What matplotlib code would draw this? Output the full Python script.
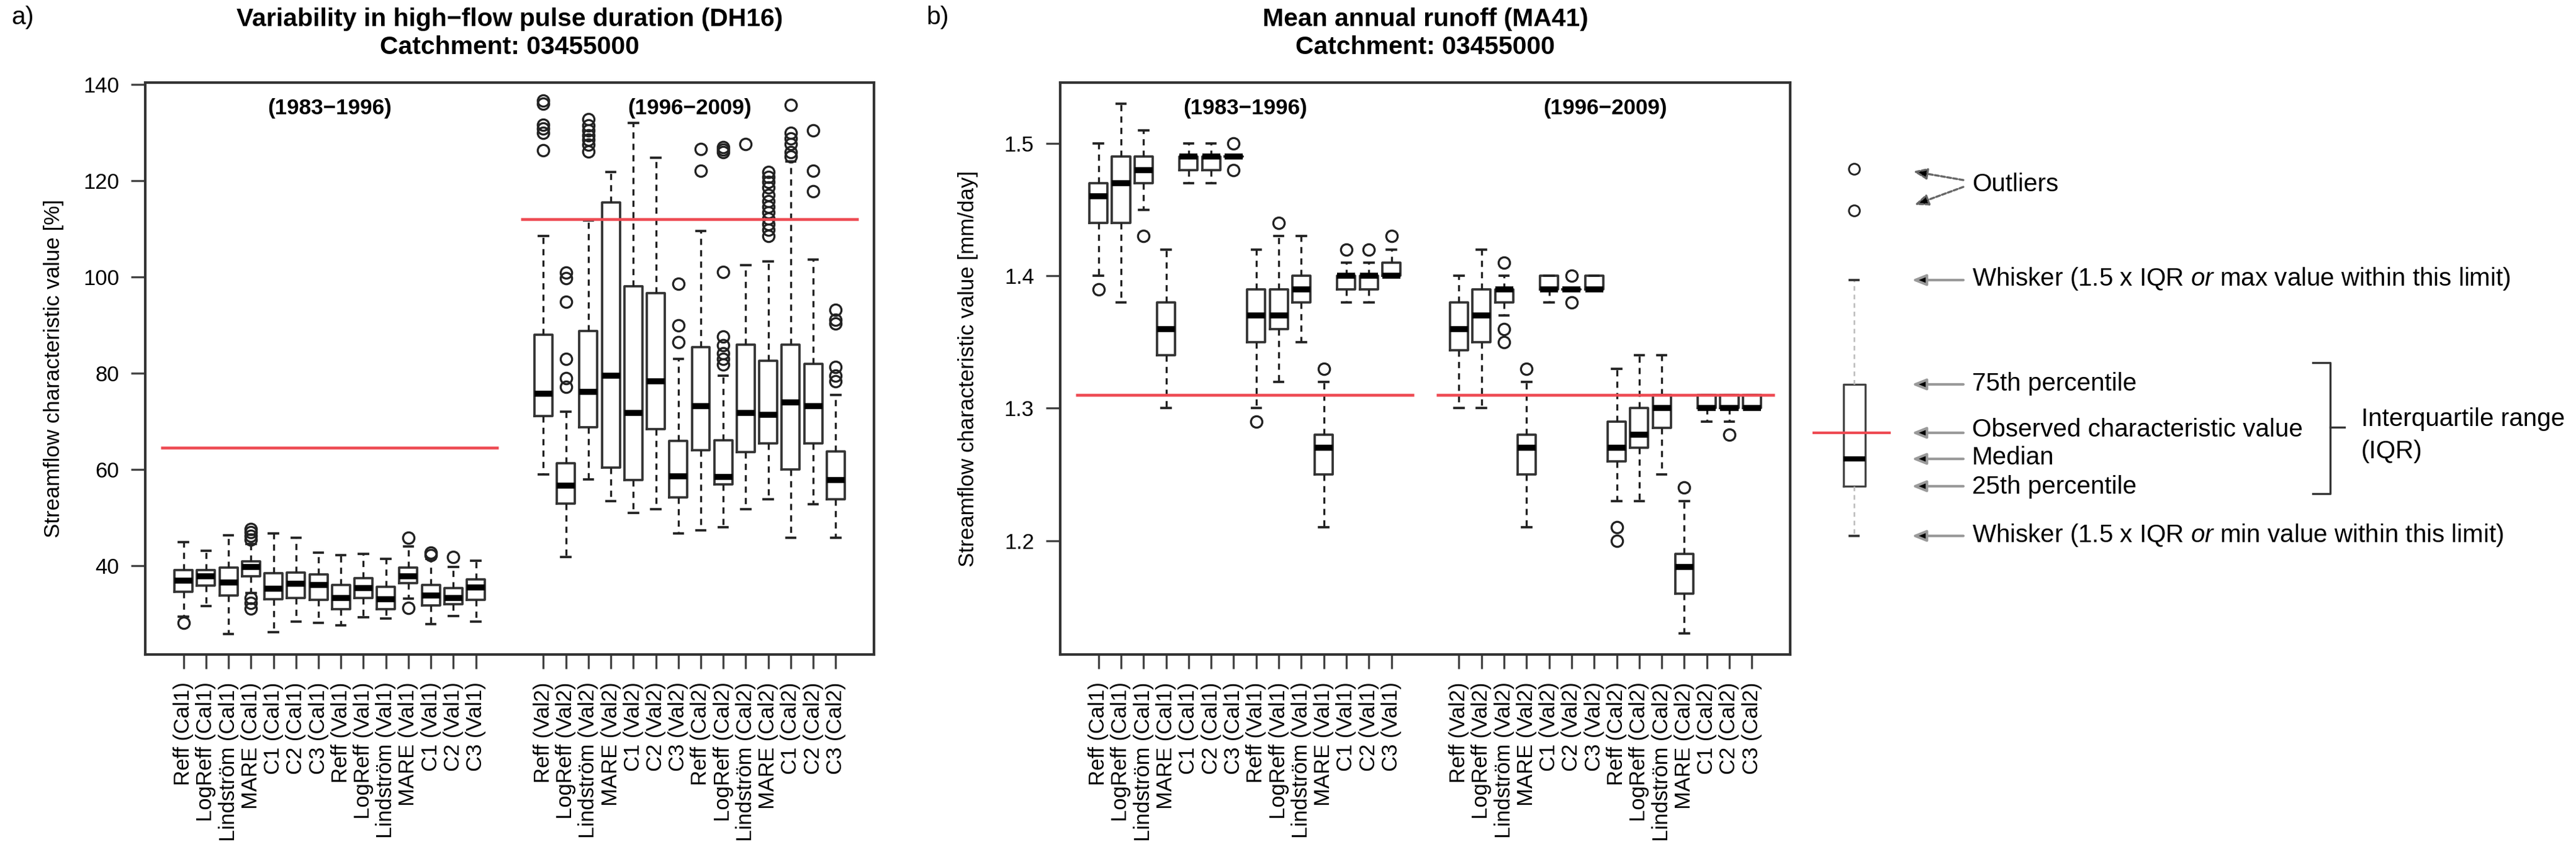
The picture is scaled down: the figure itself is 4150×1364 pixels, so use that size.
import matplotlib
matplotlib.use('Agg')
import matplotlib.pyplot as plt

plt.rcParams['font.family'] = ['Liberation Sans', 'DejaVu Sans']
plt.rcParams['mathtext.fontset'] = 'custom'
plt.rcParams['mathtext.rm'] = 'Liberation Sans'
plt.rcParams['mathtext.it'] = 'Liberation Sans:italic'

W, H = 4150, 1364

# box labels (both panels use the same ordering)
labels = ['Reff (Cal1)', 'LogReff (Cal1)', 'Lindström (Cal1)', 'MARE (Cal1)',
          'C1 (Cal1)', 'C2 (Cal1)', 'C3 (Cal1)',
          'Reff (Val1)', 'LogReff (Val1)', 'Lindström (Val1)', 'MARE (Val1)',
          'C1 (Val1)', 'C2 (Val1)', 'C3 (Val1)',
          'Reff (Val2)', 'LogReff (Val2)', 'Lindström (Val2)', 'MARE (Val2)',
          'C1 (Val2)', 'C2 (Val2)', 'C3 (Val2)',
          'Reff (Cal2)', 'LogReff (Cal2)', 'Lindström (Cal2)', 'MARE (Cal2)',
          'C1 (Cal2)', 'C2 (Cal2)', 'C3 (Cal2)']
positions = list(range(1, 15)) + list(range(17, 31))
periods = ['(1983−1996)', '(1996−2009)']
period_x = [7.5, 23.5]
obs_span = [(0, 15), (16, 31)]

# a) DH16 - variability in high-flow pulse duration [%]
dh16_lo = [29.5, 31.6, 25.9, 34.4, 26.2, 28.5, 28.2, 27.7, 29.4, 29.1, 33.2, 27.9, 29.6, 28.4,
           59.0, 41.8, 58.0, 53.4, 51.0, 51.8, 46.7, 47.4, 48.0, 51.8, 53.9, 45.8, 52.8, 45.8]
dh16_q1 = [34.6, 35.9, 33.8, 37.9, 33.1, 33.3, 32.9, 31.0, 33.3, 31.0, 36.4, 31.8, 32.0, 32.9,
           71.1, 53.0, 68.8, 60.4, 57.9, 68.4, 54.2, 64.0, 57.0, 63.7, 65.4, 60.1, 65.4, 53.9]
dh16_med = [37.0, 37.8, 36.6, 39.8, 35.3, 36.3, 36.0, 33.4, 35.4, 33.1, 37.9, 33.8, 33.4, 35.5,
            75.8, 56.7, 76.1, 79.5, 71.8, 78.4, 58.6, 73.2, 58.5, 71.8, 71.4, 74.0, 73.2, 57.9]
dh16_q3 = [39.1, 39.1, 39.7, 41.0, 38.5, 38.6, 38.2, 36.0, 37.5, 35.7, 39.6, 36.0, 35.4, 37.2,
           88.0, 61.3, 88.8, 115.5, 98.1, 96.7, 66.0, 85.5, 66.1, 86.0, 82.6, 86.0, 82.0, 63.8]
dh16_hi = [45.0, 43.1, 46.4, 44.5, 46.7, 45.9, 42.7, 42.3, 42.5, 41.5, 44.0, 41.5, 39.8, 41.1,
           108.5, 72.0, 111.7, 121.8, 132.0, 124.8, 83.0, 109.6, 79.5, 102.5, 103.3, 124.0, 103.7, 75.5]
dh16_out = [[28.2], [], [], [47.6, 47.0, 46.3, 45.5, 33.4, 32.3, 31.2], [], [], [], [], [], [],
            [45.9, 31.3], [42.8, 42.3], [41.9], [],
            [136.6, 136.0, 131.6, 130.8, 130.0, 126.4],
            [100.9, 99.8, 94.9, 83.0, 79.0, 77.2],
            [132.8, 131.5, 130.5, 129.5, 128.5, 127.5, 126.1],
            [], [], [],
            [98.6, 90.0, 86.5],
            [126.6, 122.1],
            [127.0, 126.5, 126.0, 101.0, 87.7, 85.9, 84.2, 83.0, 81.9],
            [127.6],
            [121.8, 120.8, 119.8, 118.6, 117.0, 115.8, 114.6, 113.4, 112.2, 111.0, 109.8, 108.6],
            [135.7, 129.9, 128.8, 127.6, 125.9, 125.0],
            [130.5, 122.1, 117.8],
            [93.2, 91.1, 90.3, 81.3, 79.5, 78.4]]
dh16_obs = [64.5, 112.0]

# b) MA41 - mean annual runoff [mm/day]
ma41_lo = [1.40, 1.38, 1.45, 1.30, 1.47, 1.47, 1.49, 1.30, 1.32, 1.35, 1.21, 1.38, 1.38, 1.40,
           1.30, 1.30, 1.37, 1.21, 1.38, 1.39, 1.39, 1.23, 1.23, 1.25, 1.13, 1.29, 1.29, 1.30]
ma41_q1 = [1.44, 1.44, 1.47, 1.34, 1.48, 1.48, 1.49, 1.35, 1.36, 1.38, 1.25, 1.39, 1.39, 1.40,
           1.344, 1.35, 1.38, 1.25, 1.39, 1.39, 1.39, 1.26, 1.27, 1.285, 1.16, 1.30, 1.30, 1.30]
ma41_med = [1.46, 1.47, 1.48, 1.36, 1.49, 1.49, 1.49, 1.37, 1.37, 1.39, 1.27, 1.40, 1.40, 1.40,
            1.36, 1.37, 1.39, 1.27, 1.39, 1.39, 1.39, 1.27, 1.28, 1.30, 1.18, 1.30, 1.30, 1.30]
ma41_q3 = [1.47, 1.49, 1.49, 1.38, 1.49, 1.49, 1.49, 1.39, 1.39, 1.40, 1.28, 1.40, 1.40, 1.41,
           1.38, 1.39, 1.39, 1.28, 1.40, 1.39, 1.40, 1.29, 1.30, 1.31, 1.19, 1.31, 1.31, 1.31]
ma41_hi = [1.50, 1.53, 1.51, 1.42, 1.50, 1.50, 1.49, 1.42, 1.43, 1.43, 1.32, 1.41, 1.41, 1.42,
           1.40, 1.42, 1.40, 1.32, 1.40, 1.39, 1.40, 1.33, 1.34, 1.34, 1.23, 1.31, 1.31, 1.31]
ma41_out = [[1.39], [], [1.43], [], [], [], [1.50, 1.48], [1.29], [1.44], [], [1.33], [1.42], [1.42], [1.43],
            [], [], [1.41, 1.36, 1.35], [1.33], [], [1.40, 1.38], [],
            [1.21, 1.20], [], [], [1.24], [], [1.28], []]
ma41_obs = [1.31, 1.31]

RED = '#ee4a52'
box_style = dict(
    boxprops=dict(color='#333333', lw=0.9),
    medianprops=dict(color='black', lw=2.3, solid_capstyle='butt'),
    whiskerprops=dict(color='#222222', lw=0.8, linestyle=(0, (3, 2.5))),
    capprops=dict(color='#222222', lw=0.9),
    flierprops=dict(marker='o', markerfacecolor='none', markeredgecolor='#222222',
                    markersize=4.4, markeredgewidth=0.8, linestyle='none'),
)


def px_rect(x0, x1, y0, y1):
    return [x0 / W, 1 - y1 / H, (x1 - x0) / W, (y1 - y0) / H]


def draw_panel(ax, lo, q1, med, q3, hi, out, obs, ylim, yticks, ylabel, title, tag, tag_x):
    stats = [dict(whislo=a, q1=b, med=c, q3=d, whishi=e, fliers=f)
             for a, b, c, d, e, f in zip(lo, q1, med, q3, hi, out)]
    ax.bxp(stats, positions=positions, widths=0.8, capwidths=0.4, manage_ticks=False, **box_style)
    for val, (s0, s1) in zip(obs, obs_span):
        ax.hlines(val, s0, s1, color=RED, lw=1.1, zorder=4)
    for lab, px in zip(periods, period_x):
        ax.text(px, 0.955, lab, transform=ax.get_xaxis_transform(), ha='center', va='center',
                fontsize=8.4, fontweight='bold')
    ax.set_xlim(-0.7, 31.7)
    ax.set_ylim(*ylim)
    ax.set_yticks(yticks)
    ax.set_xticks(positions)
    ax.set_xticklabels(labels, rotation=90, fontsize=8.3)
    ax.tick_params(axis='both', length=5.5, width=0.8, color='#444444', pad=4.6, labelsize=8.3)
    ax.tick_params(axis='x', pad=5.2)
    for sp in ax.spines.values():
        sp.set_linewidth(1.0)
        sp.set_color('#333333')
    ax.set_ylabel(ylabel, fontsize=8.4)
    ax.yaxis.set_label_coords(-0.112, 0.5)
    ax.set_title(title, fontsize=9.8, fontweight='bold', pad=11, linespacing=1.25)
    fig.text(tag_x / W, 1 - 28 / H, tag, fontsize=9.8, ha='left', va='center')


fig = plt.figure(figsize=(W / 300, H / 300), dpi=300)

ax_a = fig.add_axes(px_rect(234, 1408, 133, 1054))
draw_panel(ax_a, dh16_lo, dh16_q1, dh16_med, dh16_q3, dh16_hi, dh16_out, dh16_obs,
           (21.6, 140.4), [40, 60, 80, 100, 120, 140],
           'Streamflow characteristic value [%]',
           'Variability in high−flow pulse duration (DH16)\nCatchment: 03455000', 'a)', 18)

ax_b = fig.add_axes(px_rect(1708, 2884, 133, 1054))
draw_panel(ax_b, ma41_lo, ma41_q1, ma41_med, ma41_q3, ma41_hi, ma41_out, ma41_obs,
           (1.114, 1.546), [1.2, 1.3, 1.4, 1.5],
           'Streamflow characteristic value [mm/day]',
           'Mean annual runoff (MA41)\nCatchment: 03455000', 'b)', 1492)
ax_b.set_yticklabels(['1.2', '1.3', '1.4', '1.5'])

# explanatory box diagram (drawn in pixel coordinates)
ax_l = fig.add_axes([2890 / W, 0, 1 - 2890 / W, 1])
ax_l.set_xlim(2890, W)
ax_l.set_ylim(H, 0)
ax_l.axis('off')

key_box = [dict(whislo=863, q1=783, med=739, q3=619, whishi=451, fliers=[272, 339])]
ax_l.bxp(key_box, positions=[2987], widths=35, capwidths=14, manage_ticks=False,
         boxprops=dict(color='#444444', lw=0.8),
         medianprops=dict(color='black', lw=2.0, solid_capstyle='butt'),
         whiskerprops=dict(color='#bbbbbb', lw=0.6, linestyle=(0, (3, 2.5))),
         capprops=dict(color='#333333', lw=0.9),
         flierprops=dict(marker='o', markerfacecolor='none', markeredgecolor='#222222',
                         markersize=4.2, markeredgewidth=0.7, linestyle='none'))
ax_l.hlines(697, 2920, 3046, color=RED, lw=1.0)

key_text = ['Whisker (1.5 x IQR $\\mathit{or}$ max value within this limit)',
            '75th percentile', 'Observed characteristic value', 'Median',
            '25th percentile',
            'Whisker (1.5 x IQR $\\mathit{or}$ min value within this limit)']
key_y = [449, 618, 692, 737, 784, 862]
arrow_y = [451, 619, 697, 739, 783, 863]
arrow_kw = dict(arrowstyle='-|>,head_length=0.45,head_width=0.18', fc='black', ec='#9a9a9a',
                lw=1.0, shrinkA=0, shrinkB=0)
for txt, ty, ay in zip(key_text, key_y, arrow_y):
    ax_l.annotate('', xy=(3080, ay), xytext=(3163, ay), arrowprops=arrow_kw)
    ax_l.text(3177, ty, txt, fontsize=9.7, ha='left', va='center')

ax_l.text(3177, 297, 'Outliers', fontsize=9.7, ha='left', va='center')
outlier_arrow = dict(arrow_kw, ec='#666666', lw=0.8, linestyle=(0, (2, 1)))
ax_l.annotate('', xy=(3082, 276), xytext=(3163, 290), arrowprops=outlier_arrow)
ax_l.annotate('', xy=(3084, 330), xytext=(3163, 301), arrowprops=outlier_arrow)

# bracket for the interquartile range
ax_l.plot([3726, 3754, 3754, 3726], [584, 584, 795, 795], color='#333333', lw=0.8)
ax_l.plot([3754, 3777], [688, 688], color='#333333', lw=0.8)
ax_l.text(3804, 675, 'Interquartile range', fontsize=9.7, ha='left', va='center')
ax_l.text(3804, 727, '(IQR)', fontsize=9.7, ha='left', va='center')

fig.savefig('out.png', dpi=300)
